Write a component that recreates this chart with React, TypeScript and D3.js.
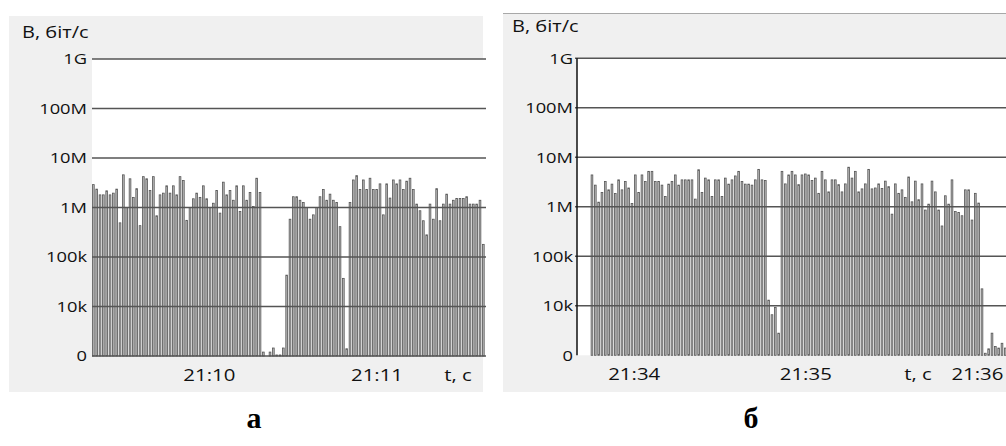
import React, { useEffect, useRef } from "react";
import * as d3 from "d3";

// log axis: "0" stands for the 1k floor of the scale
const tickValues = [1e3, 1e4, 1e5, 1e6, 1e7, 1e8, 1e9];
const tickLabels = ["0", "10k", "100k", "1M", "10M", "100M", "1G"];

// panel а: bit rate per bar, bits/s
const ratesA = [
  2.9e6, 2.35e6, 1.8e6, 1.8e6, 2.17e6, 1.8e6, 1.95e6, 2.35e6, 4.9e5, 4.57e6,
  1.0e6, 3.8e6, 1.6e6, 2.4e6, 4.3e5, 4.2e6, 3.8e6, 2.2e6, 4.2e6, 6.8e5,
  1.8e6, 1.95e6, 2.74e6, 1.95e6, 2.74e6, 1.8e6, 4.2e6, 3.5e6, 5.5e5, 1.0e6,
  1.5e6, 1.95e6, 1.6e6, 2.74e6, 1.5e6, 1.0e6, 1.22e6, 2.2e6, 7.7e5, 3.25e6,
  1.8e6, 2.2e6, 1.4e6, 2.74e6, 8.3e5, 2.74e6, 1.4e6, 2.0e6, 1.05e6, 3.9e6,
  2.0e6, 1.2e3, 0, 1.2e3, 1.45e3, 1.05e3, 1.05e3, 1.45e3, 4.3e4, 5.8e5,
  1.65e6, 1.65e6, 1.4e6, 1.26e6, 1.0e6, 5.8e5, 7.1e5, 1.0e6, 1.65e6, 2.3e6,
  1.4e6, 1.86e6, 1.4e6, 1.26e6, 4.1e5, 3.7e4, 1.4e3, 1.26e6, 3.6e6, 4.4e6,
  2.3e6, 3.6e6, 2.3e6, 3.9e6, 2.3e6, 2.3e6, 3.0e6, 7.1e5, 3.0e6, 1.55e6,
  3.6e6, 3.0e6, 3.6e6, 2.3e6, 3.4e6, 3.9e6, 2.3e6, 1.17e6, 8.6e5, 5.4e5,
  2.8e5, 1.17e6, 5.8e5, 2.4e6, 5.4e5, 1.17e6, 1.86e6, 1.17e6, 1.4e6, 1.52e6,
  1.52e6, 1.52e6, 1.65e6, 1.17e6, 1.17e6, 1.17e6, 1.4e6, 1.8e5,
];

// panel б
const ratesB = [
  4.4e6, 2.74e6, 1.24e6, 1.95e6, 3.25e6, 2.2e6, 2.87e6, 1.86e6, 3.5e6, 2.2e6,
  3.25e6, 2.4e6, 1.17e6, 4.4e6, 1.95e6, 4.4e6, 3.25e6, 5.2e6, 5.2e6, 3.25e6,
  3.25e6, 2.74e6, 1.62e6, 2.87e6, 3.25e6, 4.4e6, 2.74e6, 3.5e6, 3.5e6, 3.5e6,
  3.5e6, 1.43e6, 5.6e6, 1.95e6, 3.8e6, 3.5e6, 1.62e6, 3.5e6, 3.5e6, 1.62e6,
  3.8e6, 2.87e6, 3.5e6, 4.2e6, 5.2e6, 3.25e6, 2.87e6, 2.87e6, 2.74e6, 3.5e6,
  5.7e6, 3.5e6, 3.4e6, 1.3e4, 6.6e3, 9.3e3, 2.8e3, 5.2e6, 2.9e6, 4.4e6,
  5.2e6, 4.4e6, 2.8e6, 4.4e6, 4.6e6, 4.4e6, 3.4e6, 3.8e6, 1.87e6, 5.2e6,
  3.5e6, 2.0e6, 3.5e6, 3.5e6, 2.8e6, 2.0e6, 2.9e6, 6.3e6, 3.8e6, 5.2e6,
  2.0e6, 2.3e6, 2.9e6, 5.7e6, 2.3e6, 2.4e6, 2.9e6, 2.35e6, 3.3e6, 2.55e6,
  7.1e5, 2.9e6, 1.87e6, 2.2e6, 1.55e6, 4.0e6, 1.26e6, 3.3e6, 1.39e6, 2.9e6,
  8.6e5, 1.13e6, 3.3e6, 2.0e6, 8.6e5, 4.1e5, 1.67e6, 1.13e6, 3.5e6, 8.0e5,
  7.7e5, 6.6e5, 2.2e6, 2.2e6, 5.4e5, 1.87e6, 1.19e6, 2.2e4, 1.1e3, 1.35e3,
  2.8e3, 1.5e3, 1.4e3, 1.75e3, 1.4e3,
];

const timeTicksA = ["21:10", "21:11"];
const timeTicksB = ["21:34", "21:35", "21:36"];
const timeSpanA = ["21:09:18", "21:11:39"];
const timeSpanB = ["21:33:40", "21:36:10"];

const yTitle = "В, біт/с";
const xTitle = "t, c";
const panelNames = ["а", "б"];

const FONT = "'Open Sans', sans-serif";
const parseHM = d3.timeParse("%H:%M");
const parseHMS = d3.timeParse("%H:%M:%S");

type Panel = {
  bg: [number, number, number, number];
  plot: [number, number, number, number];
  bars: [number, number];
  labelRight: number;
  title: [number, number];
  xLabelY: number;
  xTitleX: number;
  axisLine: boolean;
  zeroLine: boolean;
  name: [number, number];
};

const panelA: Panel = {
  bg: [9, 16, 483, 392],
  plot: [92, 59, 486, 356],
  bars: [91.7, 485],
  labelRight: 87,
  title: [22, 38],
  xLabelY: 375,
  xTitleX: 458,
  axisLine: false,
  zeroLine: true,
  name: [254, 428],
};

const panelB: Panel = {
  bg: [503, 13, 1006, 392],
  plot: [577, 58.3, 1006, 355.3],
  bars: [590.3, 1007],
  labelRight: 573,
  title: [512, 31.5],
  xLabelY: 373.5,
  xTitleX: 918,
  axisLine: true,
  zeroLine: false,
  name: [751, 428],
};

function txt(g: any, x: number, y: number, s: string, size: number, anchor: string, sx = 1.22) {
  return g
    .append("text")
    .attr("transform", `translate(${x},${y}) scale(${sx},1)`)
    .attr("text-anchor", anchor)
    .attr("font-family", FONT)
    .attr("font-size", size)
    .attr("fill", "#111")
    .text(s);
}

function drawPanel(svg: any, p: Panel, rates: number[], ticks: string[], span: string[], name: string) {
  const g = svg.append("g");
  const [px0, py0, px1, py1] = p.plot;

  g.append("rect")
    .attr("x", p.bg[0]).attr("y", p.bg[1])
    .attr("width", p.bg[2] - p.bg[0]).attr("height", p.bg[3] - p.bg[1])
    .attr("fill", "#f0f0f0");
  g.append("rect")
    .attr("x", px0).attr("y", py0)
    .attr("width", px1 - px0).attr("height", py1 - py0)
    .attr("fill", "#fff");

  const y = d3.scaleLog().domain([1e3, 1e9]).range([py1, py0]);
  const x = d3.scaleBand<number>()
    .domain(d3.range(rates.length))
    .range(p.bars)
    .paddingInner(0.25)
    .paddingOuter(0.125);
  const t = d3.scaleTime()
    .domain(span.map((s) => parseHMS(s) as Date))
    .range([px0, px1]);

  const bw = x.bandwidth();
  g.selectAll("rect.bar")
    .data(rates.map((v, i) => ({ v, i })).filter((d) => d.v > 1e3))
    .join("rect")
    .attr("class", "bar")
    .attr("x", (d: any) => (x(d.i) as number) + 0.4)
    .attr("width", bw - 0.8)
    .attr("y", (d: any) => y(d.v))
    .attr("height", (d: any) => py1 - y(d.v))
    .attr("fill", "#bdbdbd")
    .attr("stroke", "#555")
    .attr("stroke-width", 0.8);

  // gridlines drawn over the bars
  g.selectAll("line.grid")
    .data(tickValues.filter((v) => p.zeroLine || v > 1e3))
    .join("line")
    .attr("class", "grid")
    .attr("x1", p.axisLine ? px0 - 2 : px0)
    .attr("x2", px1)
    .attr("y1", (v: number) => y(v))
    .attr("y2", (v: number) => y(v))
    .attr("stroke", "#555")
    .attr("stroke-width", 1.4);

  if (p.axisLine) {
    g.append("line")
      .attr("x1", px0).attr("x2", px0)
      .attr("y1", py0).attr("y2", py1)
      .attr("stroke", "#111").attr("stroke-width", 1.5);
    g.append("line")
      .attr("x1", p.bg[0]).attr("x2", p.bg[2])
      .attr("y1", p.bg[1] + 0.5).attr("y2", p.bg[1] + 0.5)
      .attr("stroke", "#a8a8a8").attr("stroke-width", 1);
  }

  tickValues.forEach((v, i) => {
    txt(g, p.labelRight, y(v), tickLabels[i], 15, "end").attr("dy", "0.36em");
  });

  txt(g, p.title[0], p.title[1], yTitle, 16, "start", 1.25);

  ticks.forEach((s) => {
    txt(g, t(parseHM(s) as Date), p.xLabelY, s, 17, "middle", 1.2).attr("dy", "0.36em");
  });
  txt(g, p.xTitleX, p.xLabelY, xTitle, 17, "middle", 1.2).attr("dy", "0.36em");

  g.append("text")
    .attr("x", p.name[0])
    .attr("y", p.name[1])
    .attr("text-anchor", "middle")
    .attr("font-family", "'Liberation Serif', 'Times New Roman', serif")
    .attr("font-weight", "bold")
    .attr("font-size", 30)
    .attr("fill", "#000")
    .text(name);
}

export default function App() {
  const ref = useRef<SVGSVGElement>(null);

  useEffect(() => {
    const svg = d3.select(ref.current);
    svg.selectAll("*").remove();
    drawPanel(svg, panelA, ratesA, timeTicksA, timeSpanA, panelNames[0]);
    drawPanel(svg, panelB, ratesB, timeTicksB, timeSpanB, panelNames[1]);
  }, []);

  return (
    <svg
      ref={ref}
      width={1006}
      height={446}
      style={{ position: "absolute", left: 0, top: 0, background: "#fff", display: "block" }}
    />
  );
}
